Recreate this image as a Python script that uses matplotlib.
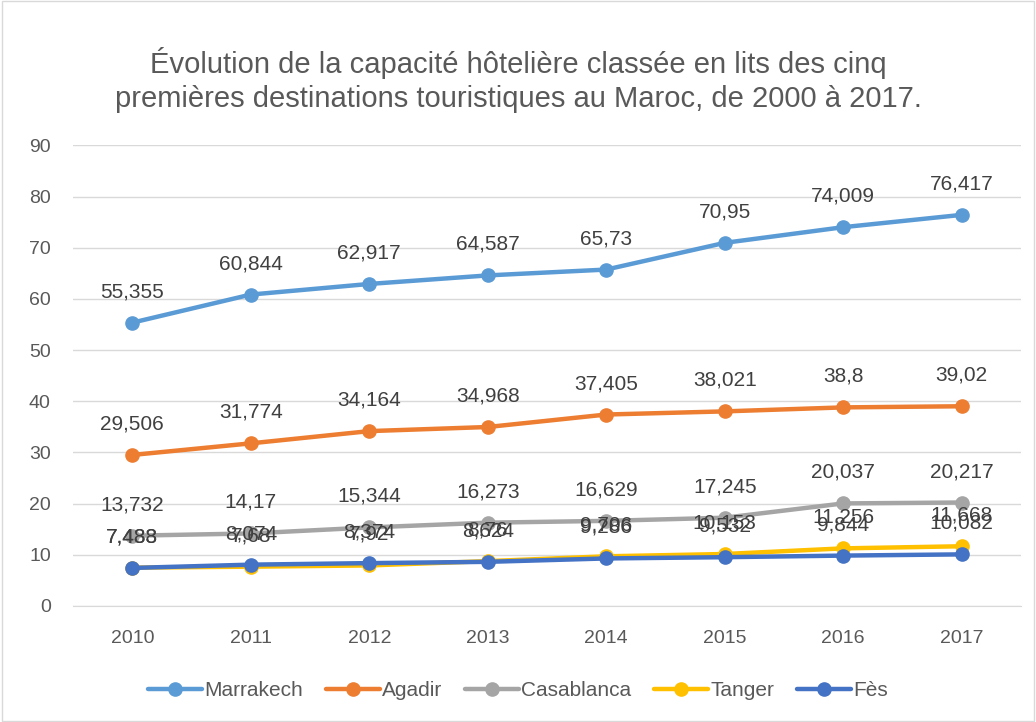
import matplotlib.pyplot as plt
from matplotlib.patches import Rectangle

plt.rcParams['font.family'] = ['Liberation Sans', 'DejaVu Sans']

years = ['2010', '2011', '2012', '2013', '2014', '2015', '2016', '2017']
marrakech = [55.355, 60.844, 62.917, 64.587, 65.73, 70.95, 74.009, 76.417]
agadir = [29.506, 31.774, 34.164, 34.968, 37.405, 38.021, 38.8, 39.02]
casablanca = [13.732, 14.17, 15.344, 16.273, 16.629, 17.245, 20.037, 20.217]
tanger = [7.488, 7.68, 7.92, 8.76, 9.706, 10.153, 11.256, 11.668]
fes = [7.433, 8.074, 8.374, 8.624, 9.286, 9.532, 9.844, 10.082]

series = [
    ('Marrakech', marrakech, '#5B9BD5'),
    ('Agadir', agadir, '#ED7D31'),
    ('Casablanca', casablanca, '#A5A5A5'),
    ('Tanger', tanger, '#FFC000'),
    ('Fès', fes, '#4472C4'),
]

def fmt(v):
    s = ('%.3f' % v).rstrip('0').rstrip('.')
    return s.replace('.', ',')

fig = plt.figure(figsize=(10.36, 7.22), dpi=100)
ax = fig.add_axes([0.0705, 0.1607, 0.915, 0.638])

x = list(range(len(years)))
for name, vals, col in series:
    ax.plot(x, vals, color=col, lw=3.2, marker='o', ms=9.5, label=name,
            solid_capstyle='round', zorder=3)

# data labels on top of everything
for name, vals, col in series:
    for xi, v in zip(x, vals):
        ax.annotate(fmt(v), (xi, v), xytext=(0, 31), textcoords='offset pixels',
                    ha='center', va='center', fontsize=15, color='#404040', zorder=5)

ax.set_xlim(-0.5, len(years) - 0.5)
ax.set_ylim(0, 90)
ax.set_yticks(range(0, 91, 10))
ax.set_xticks(x)
ax.set_xticklabels(years)
ax.tick_params(length=0, labelsize=14, colors='#595959')
ax.tick_params(axis='y', pad=16)
ax.tick_params(axis='x', pad=17)
ax.grid(axis='y', color='#D9D9D9', lw=1)
ax.set_axisbelow(True)
for s in ['top', 'right', 'left']:
    ax.spines[s].set_visible(False)
ax.spines['bottom'].set_color('#D9D9D9')

fig.text(0.5, 0.889, "Évolution de la capacité hôtelière classée en lits des cinq\n"
         "premières destinations touristiques au Maroc, de 2000 à 2017.",
         ha='center', va='center', fontsize=21, color='#595959', linespacing=1.25)

fig.legend(loc='center', bbox_to_anchor=(0.5, 0.043), ncol=5, frameon=False,
           fontsize=15, handlelength=2.6, columnspacing=1.1, handletextpad=0.1,
           labelcolor='#595959')

fig.patches.append(Rectangle((0.002, 0.002), 0.996, 0.996, transform=fig.transFigure,
                             fill=False, edgecolor='#D9D9D9', lw=1))

fig.savefig('out.png', dpi=100)
